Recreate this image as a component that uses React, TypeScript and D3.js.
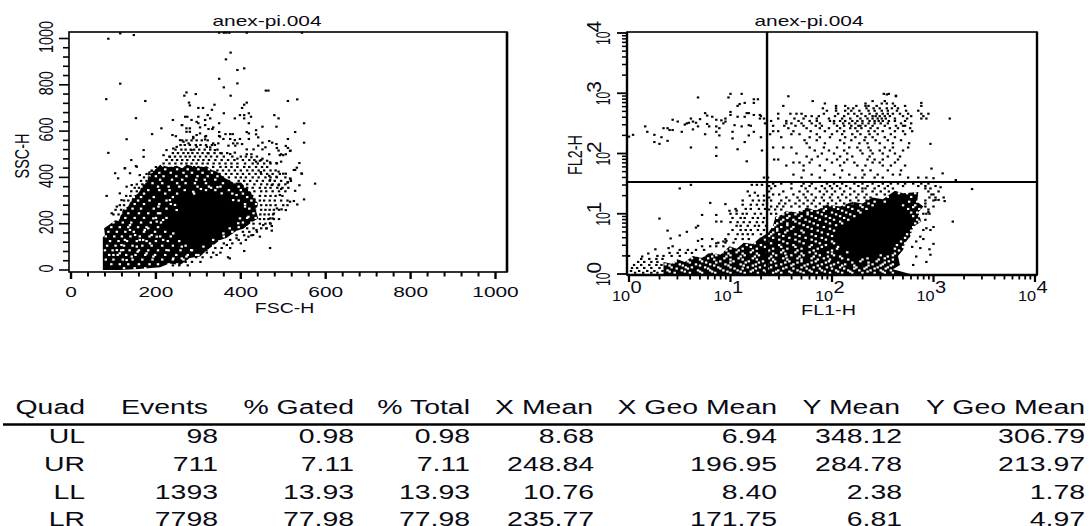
import React from "react";
import * as d3 from "d3";

type Row = [number, number[]];
const flat = (rows: Row[]) => rows.flatMap(([y, xs]) => xs.map((x) => [x, y] as [number, number]));

const title = "anex-pi.004";
const fscTicks = [0, 200, 400, 600, 800, 1000];
const decades = [0, 1, 2, 3, 4];
const tableHeader = ["Quad", "Events", "% Gated", "% Total", "X Mean", "X Geo Mean", "Y Mean", "Y Geo Mean"];
const tableRows = [
  ["UL", "98", "0.98", "0.98", "8.68", "6.94", "348.12", "306.79"],
  ["UR", "711", "7.11", "7.11", "248.84", "196.95", "284.78", "213.97"],
  ["LL", "1393", "13.93", "13.93", "10.76", "8.40", "2.38", "1.78"],
  ["LR", "7798", "77.98", "77.98", "235.77", "171.75", "6.81", "4.97"],
];
const quadLog = [1.36, 1.527];

// FSC / SSC : outline of the saturated region, low-density cells inside it, and single events
const fscDense: [number, number][] = [[75,0],[75,141],[80,150],[78,180],[90,196],[104,215],[112,212],[123,262],[135,275],[147,320],[158,330],[170,372],[180,380],[182,425],[196,430],[210,455],[230,445],[249,450],[262,440],[272,455],[295,445],[320,448],[332,432],[343,425],[360,400],[382,378],[400,378],[422,340],[432,318],[441,285],[436,255],[441,223],[425,205],[406,178],[390,170],[367,139],[350,128],[335,106],[318,82],[304,58],[280,52],[257,22],[232,28],[210,12],[160,4],[115,0]];
const fscHoles: [number, number][] = [[139,194],[139,173],[127,130],[119,108],[108,86],[100,65],[143,58],[155,101],[162,130],[174,173],[182,180],[194,223],[202,209],[210,245],[217,216],[206,274],[233,302],[245,281],[249,259],[217,130],[202,144],[186,115],[170,130],[157,79],[178,72],[194,58],[131,43],[115,72],[123,86],[151,151],[190,151],[241,158],[225,86],[261,101],[261,50],[241,50],[272,58],[295,65],[283,86],[288,338],[306,350],[330,355],[345,358],[355,331],[390,324],[382,302],[410,274],[418,230],[398,223],[394,202],[374,180],[359,158],[335,130],[312,101]];
const fscHoleRows: Row[] = [
  [450,[215,240,262,288,312,330]],[435,[195,222,250,275,300,325,345]],[420,[190,208,235,265,285,310,332,355]],
  [405,[185,200,218,248,272,298,322,345,365]],[390,[178,210,238,262,295,315,340,375]],[375,[172,192,215,250,270,292,318,358,385]],
  [360,[166,205,230,255,298,325,352,395,410]],[345,[160,182,208,232,268,318,340,372,400,420]],[330,[152,172,222,250,290,380,405,428]],
  [315,[148,165,195,240,415,432]],[300,[140,158,185,225,395,425,438]],[285,[132,150,172,208,235,410,436]],
  [265,[128,145,165,195,225,420,438]],[245,[118,135,160,182,205,430]],[225,[112,128,150,172,200,225,415,435]],
  [205,[100,122,142,165,188,212,405,425]],[185,[95,115,135,158,178,205,395,415]],[165,[88,108,128,148,172,198,222,380,400]],
  [145,[82,102,120,140,162,185,210,235,360,385]],[125,[92,112,132,155,178,200,228,255,350,368]],
  [105,[85,105,125,145,168,190,215,240,270,335]],[85,[80,98,118,138,160,182,205,230,258,285,320]],
  [65,[90,110,130,152,175,198,222,248,275,300]],[45,[82,100,122,145,168,192,215,240,265,285]],
  [25,[95,115,135,160,185,205,230,250]],[8,[125,150,175]],
];
const fscSingles: [number, number][] = [[376,939],[365,910],[392,864],[408,871],[349,826],[392,806],[360,789],[459,775],[465,775],[272,767],[294,760],[267,753],[376,753],[511,730],[533,737],[414,723],[408,714],[338,714],[278,723],[280,711],[403,700],[300,700],[311,700],[332,692],[360,677],[419,677],[479,669],[398,669],[408,669],[424,662],[269,662],[274,662],[322,669],[300,662],[328,655],[386,655],[408,655],[489,655],[284,648],[316,648],[419,634],[349,634],[549,634],[296,640],[300,634],[316,626],[451,619],[484,619],[262,626],[272,612],[280,612],[272,597],[280,597],[304,616],[324,609],[333,609],[335,616],[349,596],[414,596],[419,590],[436,604],[436,586],[528,596],[364,587],[375,587],[381,587],[349,579],[441,573],[511,566],[318,579],[316,564],[296,583],[288,569],[398,566],[386,561],[419,566],[359,566],[375,566],[467,557],[474,550],[549,550],[382,547],[347,547],[339,540],[392,547],[403,544],[451,550],[484,544],[371,537],[387,537],[441,537],[506,536],[458,530],[451,521],[485,527],[511,527],[517,516],[328,530],[414,521],[430,521],[339,518],[489,516],[495,500],[506,500],[467,500],[425,500],[425,487],[414,500],[355,504],[375,501],[386,507],[324,504],[392,481],[451,481],[445,472],[436,468],[462,472],[469,465],[484,462],[495,468],[538,462],[532,442],[528,432],[544,416],[500,416],[506,416],[489,425],[517,394],[484,403],[467,407],[447,423],[575,373],[538,366],[511,380],[489,366],[495,350],[469,389],[473,367],[525,432],[543,417],[516,395],[510,377],[528,342],[492,324],[549,305],[510,280],[516,295],[525,298],[533,283],[506,259],[496,262],[485,266],[475,223],[469,223],[478,244],[473,190],[473,170],[469,95],[485,460],[500,496],[492,496],[516,514],[88,999],[116,1022],[148,1015],[349,1025],[360,1025],[366,1025],[373,1025],[414,1025],[544,1025],[116,805],[83,738],[175,730],[153,656],[131,565],[88,506],[213,612],[191,587],[240,648],[239,583],[247,578],[261,626],[171,518],[171,489],[142,475],[153,449],[127,440],[257,561],[249,532],[265,554],[241,525],[277,547],[288,575],[284,518],[296,532],[225,518],[218,496],[233,489],[304,590],[316,576],[320,532],[335,547],[351,576],[104,418],[111,396],[139,418],[127,439],[155,446],[84,320],[115,331],[131,360],[108,274],[96,245],[119,302],[143,367],[162,410],[408,82],[374,50],[343,65],[319,86],[367,108],[390,137],[418,144],[437,173],[453,194],[461,180],[445,144],[429,151],[469,202]];
const fscRows: Row[] = [
  [560,[262,272,284,296,308,322]],[540,[258,268,280,294,305,318,332]],[520,[246,260,270,282,290,302,315,328,345]],
  [505,[240,252,265,276,286,298,310,322,338,352,368]],[490,[232,245,258,270,280,292,304,318,330,344,360,380,400,412,438]],
  [475,[225,238,250,262,274,288,300,312,325,340,355,370,385,405,420,432,448]],[460,[218,232,246,260,272,284,296,310,322,336,350,364,378,392,410,428,440,455,470]],
  [445,[200,212,290,300,335,352,365,378,392,408,420,436,450,462]],[430,[190,205,345,358,372,386,400,415,428,442,455,470,482]],
  [415,[178,192,350,365,378,392,405,420,435,448,462,475,492]],[400,[172,185,358,372,388,400,412,428,442,458,470,485,505]],
  [385,[165,178,372,395,408,422,438,452,468,480,495,518]],[370,[155,168,385,400,415,432,448,462,475,490,505]],
  [355,[150,160,415,428,445,458,470,486,498,512]],[340,[142,155,432,448,460,475,490,505]],[320,[130,140,445,458,470,482,498]],
  [300,[125,135,445,455,468,480,495,510]],[280,[115,125,448,460,470,482,500]],[260,[105,118,448,458,468,478,490]],
  [240,[100,112,446,456,466,476]],[220,[445,455,465,478,490]],[200,[430,445,458,470]],[180,[415,430,448,460]],
  [165,[405,420,438]],[150,[390,408,425]],[130,[375,395,412]],[115,[360,380,400]],[95,[340,355,375]],[75,[320,335,352]],
  [55,[295,310,330,370]],[35,[270,285,305]],[20,[240,255,275]],
];

// FL1 / FL2 : all values as log10 (decades)
const flDense: [number, number][] = [[.34,0],[.34,.2],[.42,.17],[.47,.25],[.55,.2],[.63,.3],[.72,.27],[.8,.36],[.9,.32],[.99,.46],[1.06,.42],[1.13,.52],[1.22,.5],[1.29,.6],[1.37,.68],[1.42,.8],[1.44,.95],[1.5,.98],[1.55,1.05],[1.65,1.02],[1.75,1.1],[1.85,1.06],[1.95,1.15],[2.08,1.12],[2.2,1.2],[2.3,1.17],[2.4,1.27],[2.5,1.24],[2.62,1.38],[2.7,1.34],[2.85,1.36],[2.84,1.2],[2.9,1.12],[2.85,1.02],[2.88,.87],[2.8,.78],[2.77,.62],[2.72,.52],[2.7,.4],[2.65,.3],[2.67,.15],[2.6,.08],[2.77,0]];
const flHoleRows: Row[] = [
  [.02,[.45,.6,.72,.85,1,1.14,1.27,1.42,1.5,1.6,1.72,1.85,1.98,2.1,2.2,2.3,2.42,2.52,2.6]],
  [.06,[.38,.52,.68,.8,.93,1.07,1.22,1.33,1.47,1.66,1.78,1.9,2.04,2.16,2.27,2.38,2.48,2.58]],
  [.11,[.42,.56,.62,.75,.88,1,1.17,1.29,1.4,1.55,1.7,1.82,1.95,2.08,2.24,2.34,2.45,2.55]],
  [.16,[.36,.5,.66,.8,.95,1.1,1.25,1.36,1.5,1.62,1.76,1.9,2.02,2.13,2.4,2.5,2.6]],
  [.21,[.4,.46,.58,.72,.9,1.03,1.18,1.32,1.44,1.58,1.7,1.84,1.97,2.28,2.44,2.56]],
  [.26,[.5,.62,.78,.94,1.08,1.22,1.38,1.52,1.66,1.8,1.92,2.1,2.35,2.52]],
  [.31,[.66,.74,.86,1,1.14,1.28,1.45,1.6,1.72,1.88,2.02,2.48,2.6]],
  [.36,[.8,.92,1.06,1.2,1.36,1.5,1.64,1.78,1.96,2.15]],
  [.42,[.9,1,1.12,1.26,1.42,1.56,1.7,1.86,2.05,2.62]],
  [.48,[1.02,1.16,1.3,1.48,1.62,1.8,1.94,2.64]],
  [.54,[1.18,1.36,1.52,1.68,1.84,2,2.68]],
  [.6,[1.25,1.42,1.58,1.74,1.9,2.72]],
  [.66,[1.4,1.48,1.64,1.8,1.96,2.74,2.78]],
  [.72,[1.46,1.56,1.7,1.86,2.02,2.78]],
  [.78,[1.42,1.5,1.62,1.76,1.92,2.8,2.84]],
  [.84,[1.46,1.56,1.68,1.82,1.98,2.1,2.82]],
  [.9,[1.42,1.52,1.62,1.74,1.88,2.02,2.16,2.84]],
  [.96,[1.47,1.58,1.7,1.8,1.94,2.08,2.22,2.8,2.86]],
  [1.02,[1.56,1.66,1.76,1.86,2,2.14,2.28,2.78,2.84]],
  [1.08,[1.6,1.72,1.82,1.94,2.06,2.2,2.34,2.75,2.86]],
  [1.14,[1.74,1.86,1.98,2.12,2.28,2.4,2.7,2.82]],
  [1.2,[2.3,2.42,2.52,2.76,2.84]],
  [1.28,[2.45,2.55,2.78]],
  [1.34,[2.66,2.74,2.82]],
  [.04,[.4,.55,.7,.82,.97,1.1,1.2,1.35,1.45,1.58,1.69,1.8,1.93,2.06,2.18,2.35,2.5]],
  [.09,[.47,.58,.78,.9,1.04,1.12,1.25,1.37,1.52,1.62,1.75,1.88,2,2.12,2.22,2.32,2.42,2.53]],
  [.14,[.4,.53,.7,.84,.98,1.13,1.22,1.34,1.45,1.6,1.73,1.86,1.99,2.1,2.22,2.36,2.48,2.58]],
  [.19,[.44,.6,.76,.86,1,1.15,1.28,1.4,1.54,1.66,1.8,1.94,2.06,2.2,2.36,2.52]],
  [.24,[.46,.56,.7,.84,1,1.12,1.26,1.42,1.56,1.7,1.86,1.98,2.16,2.3,2.46,2.6]],
  [.29,[.6,.7,.82,.96,1.1,1.24,1.4,1.55,1.68,1.82,1.96,2.08,2.55]],
  [.34,[.72,.84,.98,1.12,1.26,1.42,1.54,1.7,1.84,2,2.62]],
  [.39,[.85,.96,1.08,1.22,1.38,1.52,1.66,1.82,2,2.66]],
  [.45,[.96,1.06,1.2,1.34,1.5,1.64,1.78,1.9,2.06,2.7]],
  [.51,[1.1,1.24,1.4,1.56,1.72,1.88,2.02,2.72]],
  [.57,[1.2,1.34,1.48,1.64,1.8,1.94,2.76]],
  [.63,[1.3,1.38,1.52,1.68,1.84,2,2.8]],
  [.69,[1.42,1.54,1.72,1.9]],
  [.75,[1.46,1.6,1.8,1.98,2.86]],
  [.81,[1.44,1.56,1.72,1.86,2.04]],
  [.87,[1.5,1.64,1.78,1.94,2.08,2.86]],
  [.93,[1.46,1.56,1.68,1.84,1.98,2.12]],
  [.99,[1.52,1.64,1.76,1.9,2.04,2.18]],
  [1.05,[1.58,1.7,1.8,1.92,2.1,2.26]],
  [1.11,[1.66,1.78,1.9,2.02,2.16,2.3,2.8]],
  [1.17,[1.8,1.92,2.06,2.2,2.36]],
];
const flSingles: [number, number][] = [[0,2.28],[.04,2.31],[.16,2.45],[.18,2.36],[.25,2.31],[.25,2.19],[.3,2.16],[.32,2.27],[.34,2.42],[.38,2.42],[.38,2.21],[.4,2.39],[.43,2.39],[.43,2.56],[.48,2.53],[.52,2.36],[.55,2.48],[.57,2.5],[.59,2.51],[.61,2.58],[.63,2.4],[.63,2.53],[.66,2.51],[.68,2.45],[.68,2.93],[.7,2.57],[.75,2.32],[.75,2.67],[.77,2.49],[.77,2.63],[.79,2.45],[.82,2.61],[.86,2.56],[.86,2.45],[.89,2.3],[.86,2.36],[.89,2.42],[.91,2.55],[.93,2.5],[.95,2.53],[.95,2.58],[.98,2.93],[1,2.99],[1,2.69],[1,2.64],[1.02,2.36],[1.02,2.25],[1.04,2.47],[1.07,2.61],[1.07,2.79],[1.09,2.82],[1.11,2.99],[1.11,2.45],[1.14,2.61],[1.14,2.84],[1.14,2.19],[1.16,2.67],[1.18,2.67],[1.18,2.3],[1.18,2.47],[1.2,2.46],[1.23,2.9],[1.23,2.84],[1.23,2.64],[1.23,2.36],[1.27,2.9],[1.29,2.64],[1.29,2.58],[1.31,2.05],[.61,2.1],[.86,2.1],[.86,1.96],[1.07,2.07],[1.16,1.87],
  [3.16,2.58],[2.97,2.16],[2.98,1.75],[3.09,1.67],[3,1.59],[3.22,1.56],[3.38,1.41],[2.54,2.98],[2.63,2.96],[2.88,2.84],
  [3.19,.87],[2.96,1],[3,.78],[2.97,.73],[2.93,.76],[2.9,.73],[3,.5],[2.96,.41],[2.97,.32],[2.93,.2],[2.83,.29],[2.87,.43],[2.9,.58],[2.87,.62],[2.83,.54],[2.8,.15],[2.79,.45],[2.92,.9],[2.95,1.03],[2.9,1],[3.05,1.23],[3.11,1.21],[3.02,1.23],[3.07,1.44],
  [.5,1.42],[.61,1.48],[1.21,1.48],[1.26,1.48],[1.31,1.48],[1.17,1.37],[1.24,1.35],[.8,1.18],[.95,1.16],[.3,.92],[.72,.98],[.86,.98],[.86,.87],[.91,.87],[.99,1.05],[1.06,1.05],[.68,.8],[.66,.77],[.38,.72],[.57,.7],[.5,.64],[.41,.59],[.68,.55],[.72,.58],[.82,.58],[.86,.51],[.93,.54],[.96,.55],[.43,.46],[.26,.41],[.19,.34],[.13,.29],[.39,.43],[0,.3]];
const flRows: Row[] = [
  [2.99,[2.51,2.56]],[2.95,[1.57,2.63]],[2.87,[1.81,2.4,2.52]],[2.83,[1.93,2.33,2.49,2.54,2.6]],
  [2.79,[1.52,2.04,2.13,2.24,2.33,2.36,2.44,2.62,2.72,2.88]],[2.75,[1.91,2.04,2.16,2.21,2.34,2.41,2.47,2.54,2.59,2.65]],
  [2.71,[1.95,2.04,2.13,2.19,2.27,2.36,2.42,2.49,2.55,2.64,2.73,2.85]],
  [2.66,[1.47,1.59,1.65,1.7,1.92,2.06,2.16,2.22,2.29,2.37,2.44,2.5,2.55,2.6,2.67,2.75,2.88,2.95]],
  [2.62,[1.3,1.74,1.8,1.87,2.03,2.12,2.25,2.33,2.4,2.43,2.47,2.52,2.57,2.7,2.78,2.9]],
  [2.58,[1.33,1.47,1.63,1.72,1.85,1.97,2.1,2.18,2.28,2.35,2.4,2.45,2.49,2.53,2.62,2.74,2.88,2.93]],
  [2.54,[1.4,1.55,1.67,1.78,1.85,1.98,2.02,2.08,2.13,2.2,2.25,2.3,2.37,2.42,2.46,2.5,2.56,2.62,2.72]],
  [2.5,[1.34,1.55,1.6,1.7,1.8,1.88,2.02,2.11,2.17,2.23,2.3,2.36,2.42,2.48,2.55,2.68,2.78]],
  [2.46,[1.42,1.53,1.64,1.72,1.84,1.9,2.05,2.12,2.19,2.26,2.28,2.33,2.4,2.52,2.63,2.7,2.72]],
  [2.42,[1.57,1.75,1.88,1.97,2.08,2.18,2.23,2.29,2.38,2.45,2.57,2.65,2.77]],
  [2.37,[1.42,1.47,1.62,1.79,1.93,2.05,2.12,2.25,2.36,2.42,2.5,2.62,2.7,2.79]],
  [2.32,[1.39,1.6,1.68,1.85,2,2.1,2.2,2.28,2.37,2.45,2.58,2.72]],
  [2.27,[1.3,1.5,1.78,1.88,1.98,2.13,2.23,2.33,2.4,2.52,2.62]],
  [2.22,[1.73,1.85,2.08,2.19,2.32,2.43,2.55,2.68]],[2.17,[1.75,1.93,2.12,2.27,2.35,2.47,2.6,2.76]],
  [2.1,[1.42,1.52,1.6,1.78,1.92,2.05,2.17,2.25,2.36,2.52,2.6,2.75]],[2.05,[1.83,1.97,2.12,2.28,2.38,2.47,2.57,2.7]],
  [2,[1.65,1.9,2.02,2.15,2.3,2.4,2.5,2.62]],[1.95,[1.75,1.86,2.08,2.2,2.37,2.55,2.67]],
  [1.9,[1.43,1.47,1.8,1.95,2.05,2.15,2.35,2.42,2.5,2.65]],[1.85,[1.62,1.68,1.78,2,2.12,2.22,2.4,2.47,2.62]],
  [1.8,[1.55,1.72,1.88,2.08,2.25,2.33,2.5,2.58,2.72]],[1.72,[1.72,1.93,2.1,2.3,2.38,2.55,2.68]],
  [1.65,[1.62,1.8,2.02,2.17,2.32,2.45,2.6,2.67]],[1.6,[1.33,1.37,1.7,1.88,2.08,2.23,2.3,2.42,2.5,2.75,2.85,2.93]],
  [1.5,[1.42,1.5,1.6,1.72,1.8,1.95,2.02,2.1,2.22,2.3,2.4,2.5,2.58,2.65,2.72,2.8,2.88,2.95]],
  [1.46,[1.38,1.44,1.7,1.78,1.9,1.98,2.05,2.14,2.26,2.35,2.46,2.55,2.7,2.85,2.92,3.02]],
  [1.42,[1.4,1.6,1.74,1.84,1.93,2,2.08,2.18,2.3,2.33,2.42,2.52,2.6,2.92,2.97]],
  [1.37,[1.38,1.52,1.68,1.76,1.88,1.95,2.03,2.12,2.22,2.3,2.4,2.48,2.56,2.95,3.05]],
  [1.32,[1.42,1.48,1.62,1.72,1.8,1.92,2,2.1,2.18,2.26,2.34,2.44,2.52,2.98,3]],
  [1.27,[1.38,1.55,1.66,1.74,1.84,1.9,1.98,2.06,2.14,2.24,2.32,2.38,2.96,3.02,3.1]],
  [1.22,[1.4,1.5,1.58,1.68,1.76,1.82,1.92,2,2.08,2.18,2.26,2.34,2.92,3]],
  [1.17,[1.36,1.48,1.54,1.64,1.72,1.8,1.88,1.96,2.04,2.12,2.2,2.92]],
  [1.12,[1.4,1.46,1.52,1.6,1.68,1.76,1.84,1.92,2.92,3]],[1.07,[1.38,1.44,1.5,2.95]],[1,[1.4,1.45,2.93]],
  [1.3,[1.19,1.27,1.33]],[1.22,[1.12,1.22,1.28,1.33]],[1.15,[1.12,1.2,1.26,1.32]],[1.08,[1.05,1.15,1.2,1.28,1.34]],
  [1,[1,1.06,1.12,1.16,1.24,1.3]],[.93,[1.02,1.1,1.14,1.22,1.27,1.33]],[.86,[1,1.07,1.13,1.19,1.26,1.32]],
  [.8,[1.06,1.1,1.17,1.24,1.28,1.35]],[.73,[1.02,1.1,1.15,1.2,1.27,1.33]],[.66,[.98,1.07,1.12,1.17,1.22,1.3]],
  [.58,[.95,1.05,1.12,1.18]],[.52,[.88,.95,1.03]],[.46,[.72,.8,.86,.93]],[.4,[.5,.58,.66,.74]],[.35,[.4,.48,.56,.62]],
  [.3,[.28,.34,.42,.5]],[.25,[.12,.2,.27,.33]],[.2,[.09,.15,.22,.28]],[.15,[.05,.12,.2,.27,.32]],[.1,[.03,.08,.15,.22,.3]],
  [.05,[.02,.1,.18,.25,.33]],[.02,[.06,.14,.22,.28]],
];

const font = "'Liberation Sans', Arial, sans-serif";
const ink = "#0a0a14";
const SX = 1.45;

function HText({ x, y, size = 14.4, sx = SX, anchor = "start", children }: any) {
  return (
    <text transform={`translate(${x},${y}) scale(${sx},1)`} textAnchor={anchor} fontFamily={font} fontSize={size} fill={ink}>
      {children}
    </text>
  );
}
function VText({ x, y, size = 14.4, sx = SX, sy = 1, anchor = "middle", children }: any) {
  return (
    <text transform={`translate(${x},${y}) scale(${sx},${sy}) rotate(-90)`} textAnchor={anchor} fontFamily={font} fontSize={size} fill={ink}>
      {children}
    </text>
  );
}

const Dots = ({ pts, x, y, fill = "#000", w = 2.4, h = 2.1 }: any) => (
  <g fill={fill}>
    {pts.map((p: [number, number], i: number) => (
      <rect key={i} x={x(p[0]) - w / 2} y={y(p[1]) - h / 2} width={w} height={h} />
    ))}
  </g>
);

export default function App() {
  const xL = d3.scaleLinear().domain([0, 1000]).range([71, 495.5]);
  const yL = d3.scaleLinear().domain([0, 1000]).range([270, 38.5]);
  const lineL = d3.line<[number, number]>().x((d) => xL(d[0])).y((d) => yL(d[1]));
  const minorL = d3.range(0, 1001, 40);
  const xR = d3.scaleLinear().domain([0, 4]).range([629, 1035]);
  const yR = d3.scaleLinear().domain([0, 4]).range([274, 33]);
  const lineR = d3.line<[number, number]>().x((d) => xR(d[0])).y((d) => yR(d[1]));
  const minorR = d3.range(0, 4).flatMap((d) => d3.range(2, 10).map((m) => d + Math.log10(m)));
  const fL = { l: 69, r: 507, t: 32, b: 272 };
  const fR = { l: 627, r: 1037, t: 32, b: 275 };
  const colRightH = [85, 208, 354, 470, 593, 777, 900, 1085];
  const colRightV = [85, 218, 354, 470, 594, 777, 902, 1085];
  const headBase = 414;
  const rowBase = [442.5, 470.5, 498.5, 525.5];

  return (
    <svg width={1089} height={526} style={{ position: "absolute", left: 0, top: 0, background: "#fff" }}>
      <g>
        <path d={lineL(fscDense)! + "Z"} fill="#000" />
        <Dots pts={fscHoles} x={xL} y={yL} fill="#fff" />
        <Dots pts={flat(fscHoleRows)} x={xL} y={yL} fill="#fff" />
        <Dots pts={fscSingles} x={xL} y={yL} />
        <Dots pts={flat(fscRows)} x={xL} y={yL} />
        <rect x={fL.l} y={fL.t} width={fL.r - fL.l} height={fL.b - fL.t} fill="none" stroke="#000" strokeWidth={1.6} />
        <line x1={fL.r} x2={fL.r} y1={fL.t} y2={fL.b} stroke="#000" strokeWidth={2.6} />
        {minorL.map((v) => (
          <g key={v} stroke="#000">
            <line x1={xL(v)} x2={xL(v)} y1={fL.b} y2={fL.b + (v % 200 === 0 ? 7 : 4.5)} strokeWidth={v % 200 === 0 ? 2.4 : 2} />
            <line y1={yL(v)} y2={yL(v)} x1={fL.l} x2={fL.l - (v % 200 === 0 ? 10 : 6)} strokeWidth={1.6} />
          </g>
        ))}
        {fscTicks.map((v) => (
          <HText key={v} x={xL(v)} y={296.5} anchor="middle">{v}</HText>
        ))}
        {fscTicks.map((v) => (
          <VText key={v} x={53} y={yL(v) - 1.5}>{v}</VText>
        ))}
        <HText x={284.5} y={312.5} anchor="middle" sx={1.35}>FSC-H</HText>
        <VText x={28.5} y={156}>SSC-H</VText>
        <HText x={267} y={25.5} anchor="middle">{title}</HText>
      </g>

      <g>
        <path d={lineR(flDense)! + "Z"} fill="#000" />
        <Dots pts={flat(flHoleRows)} x={xR} y={yR} fill="#fff" />
        <Dots pts={flSingles} x={xR} y={yR} />
        <Dots pts={flat(flRows)} x={xR} y={yR} />
        <rect x={fR.l} y={fR.t} width={fR.r - fR.l} height={fR.b - fR.t} fill="none" stroke="#000" strokeWidth={1.6} />
        <line x1={fR.l} x2={fR.l} y1={fR.t} y2={fR.b} stroke="#000" strokeWidth={2.4} />
        <line x1={fR.r} x2={fR.r} y1={fR.t} y2={fR.b} stroke="#000" strokeWidth={2.4} />
        <line x1={fR.l} x2={fR.r} y1={fR.b} y2={fR.b} stroke="#000" strokeWidth={2.4} />
        <line x1={xR(quadLog[0])} x2={xR(quadLog[0])} y1={fR.t} y2={fR.b} stroke="#000" strokeWidth={2.4} />
        <line x1={fR.l} x2={fR.r} y1={yR(quadLog[1])} y2={yR(quadLog[1])} stroke="#000" strokeWidth={2} />
        {minorR.map((v) => (
          <g key={v} stroke="#000">
            <line x1={xR(v)} x2={xR(v)} y1={fR.b} y2={fR.b + 4.5} strokeWidth={1.8} />
            <line y1={yR(v)} y2={yR(v)} x1={fR.l} x2={fR.l - 5} strokeWidth={1.5} />
          </g>
        ))}
        {decades.map((d) => (
          <g key={d} stroke="#000">
            <line x1={xR(d)} x2={xR(d)} y1={fR.b} y2={fR.b + 7} strokeWidth={2.2} />
            <line y1={yR(d)} y2={yR(d)} x1={fR.l} x2={fR.l - 10} strokeWidth={1.8} />
          </g>
        ))}
        {decades.map((d) => (
          <g key={d}>
            <HText x={xR(d) - 17} y={301} size={14.8} sx={1.1}>10</HText>
            <HText x={xR(d) + 1.5} y={293} size={16.7} sx={1.2}>{d}</HText>
            <VText x={610} y={yR(d) + 12} sy={0.85} anchor="start">10</VText>
            <VText x={600.5} y={yR(d) - 0.5} sy={1.45} anchor="start">{d}</VText>
          </g>
        ))}
        <HText x={828.5} y={315} anchor="middle" sx={1.37}>FL1-H</HText>
        <VText x={582} y={155}>FL2-H</VText>
        <HText x={809} y={25.5} anchor="middle">{title}</HText>
      </g>

      <g>
        {tableHeader.map((t, i) => (
          <HText key={t} x={colRightH[i]} y={headBase} size={19.6} anchor="end">{t}</HText>
        ))}
        <line x1={3} x2={1085} y1={424.5} y2={424.5} stroke="#000" strokeWidth={2.6} />
        {tableRows.map((r, ri) =>
          r.map((t, i) => (
            <HText key={ri + "-" + i} x={colRightV[i]} y={rowBase[ri]} size={19.6} anchor="end">{t}</HText>
          ))
        )}
      </g>
    </svg>
  );
}
